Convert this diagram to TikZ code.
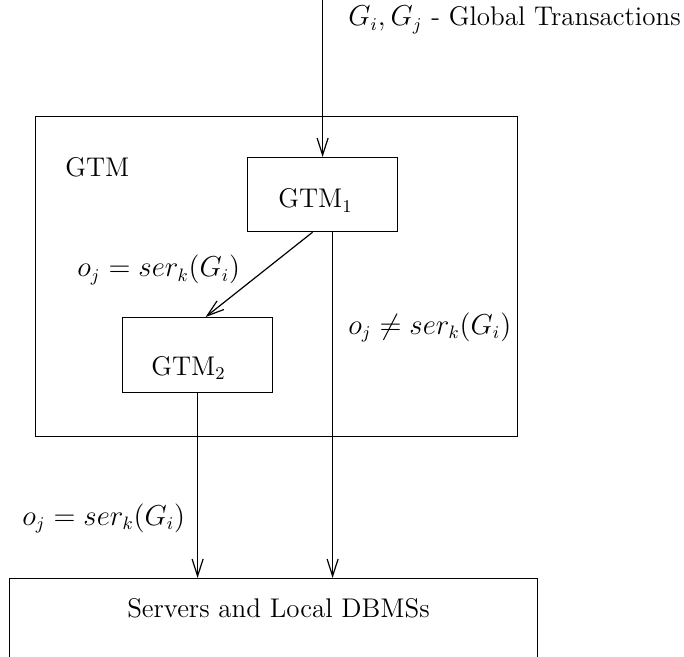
\documentclass[tikz,border=0pt]{standalone}
\usetikzlibrary{arrows.meta,calc}
\begin{document}
\begin{tikzpicture}[x=0.5pt,y=-0.5pt,
  every node/.style={font=\fontsize{13.5}{16}\selectfont},
  frame/.style={draw,line width=0.6pt,rectangle,inner sep=0pt,anchor=north west},
  flow/.style={draw,line width=0.6pt,-{Straight Barb[length=8.5pt,width=5.5pt,line width=0.6pt]}},
  txt/.style={anchor=base west,inner sep=0pt}]
\useasboundingbox (0,0) rectangle (684,657);
\begin{scope}
  \clip (0,0) rectangle (684,657);
  % boxes
  \node[frame,minimum width=241pt,minimum height=160pt] (gtm) at (35,116) {};
  \node[frame,minimum width=75pt,minimum height=37pt] (gtm1) at (247,157) {};
  \node[frame,minimum width=75pt,minimum height=37.5pt] (gtm2) at (122,317) {};
  \node[frame,minimum width=264pt,minimum height=80pt] (dbms) at (9,578) {};
\end{scope}
% texts
\node[txt] (gtmlbl) at (65,177) {GTM};
\node[txt] (gtm1lbl) at (278,208) {GTM$_1$};
\node[txt] (gtm2lbl) at (151,375) {GTM$_2$};
\node[anchor=base,inner sep=0pt] (dbmslbl) at (278.5,617) {Servers and Local DBMSs};
\node[txt] (toplbl) at (348,26) {$G_i, G_j$ - Global Transactions};
\node[txt] (eqlbl) at (77,277) {$o_j = ser_k(G_i)$};
\node[txt] (neqlbl) at (348,334) {$o_j \neq ser_k(G_i)$};
\node[txt] (eqlbltwo) at (22,525) {$o_j = ser_k(G_i)$};
% connectors
\coordinate (src) at ($(gtm1.north)+(0,-157)$);
\draw[flow] (src) -- (gtm1.north);
\draw[flow] ([xshift=-5pt]gtm1.south) -- ([xshift=4pt]gtm2.north);
\draw[flow] ([xshift=5pt]gtm1.south) -- ([xshift=5pt]gtm1.south |- dbms.north);
\draw[flow] (gtm2.south) -- (gtm2.south |- dbms.north);
\end{tikzpicture}
\end{document}
